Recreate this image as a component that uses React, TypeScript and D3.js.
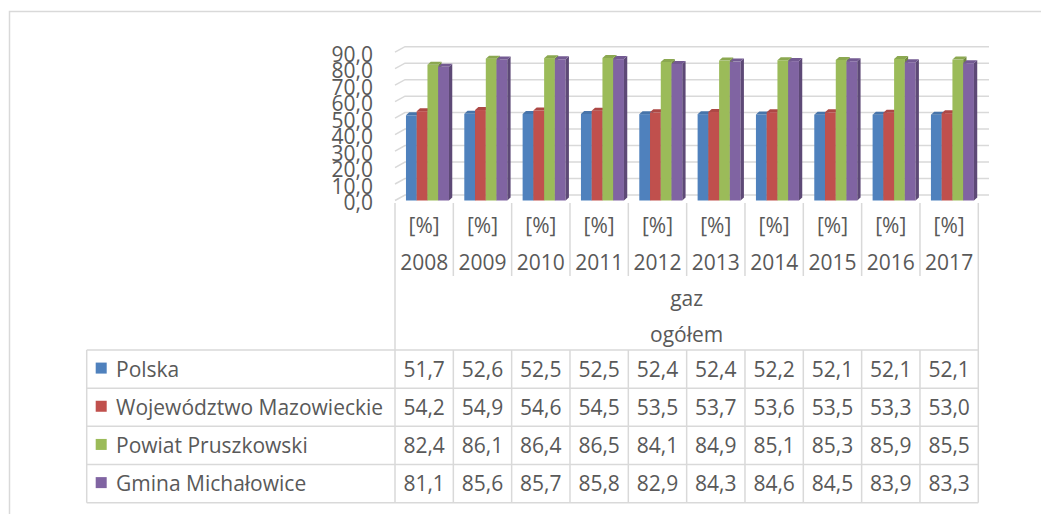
import React, { useEffect, useRef } from 'react';
import * as d3 from 'd3';

const years = ['2008', '2009', '2010', '2011', '2012', '2013', '2014', '2015', '2016', '2017'];
const seriesNames = ['Polska', 'Województwo Mazowieckie', 'Powiat Pruszkowski', 'Gmina Michałowice'];
const polska = [51.7, 52.6, 52.5, 52.5, 52.4, 52.4, 52.2, 52.1, 52.1, 52.1];
const mazowieckie = [54.2, 54.9, 54.6, 54.5, 53.5, 53.7, 53.6, 53.5, 53.3, 53.0];
const pruszkowski = [82.4, 86.1, 86.4, 86.5, 84.1, 84.9, 85.1, 85.3, 85.9, 85.5];
const michalowice = [81.1, 85.6, 85.7, 85.8, 82.9, 84.3, 84.6, 84.5, 83.9, 83.3];
const yTicks = [0, 10, 20, 30, 40, 50, 60, 70, 80, 90];
const unitLabel = '[%]';
const groupLabels = ['gaz', 'ogółem'];
const colors = ['#4F81BD', '#C0504D', '#9BBB59', '#8064A2'];

const W = 1041;
const H = 514;
const FONT = "'Open Sans', sans-serif";
const TXT = '#595959';
const LINE = '#d9d9d9';

const fmt = (v: number) => d3.format('.1f')(v).replace('.', ',');

function Chart() {
  const ref = useRef<SVGSVGElement>(null);

  useEffect(() => {
    const svg = d3.select(ref.current);
    svg.selectAll('*').remove();

    const series = [polska, mazowieckie, pruszkowski, michalowice];

    // front plane and back wall depth
    const dx = 10, dy = -5.5;
    const left = 395, right = 978.3;
    const x = d3.scaleBand<string>().domain(years).range([left, right]);
    const y = d3.scaleLinear().domain([0, 90]).range([200.5, 52.2]);

    // outer frame
    svg.append('path')
      .attr('d', `M9.5,${H} V11.5 H${W}`)
      .attr('fill', 'none').attr('stroke', LINE).attr('stroke-width', 1.5);

    // gridlines (side wall + back wall)
    const grid = svg.append('g').attr('fill', 'none').attr('stroke', LINE).attr('stroke-width', 1.5);
    yTicks.forEach(t => {
      grid.append('path')
        .attr('d', `M${left},${y(t)} L${left + dx},${y(t) + dy} H989`);
    });

    // y tick labels
    svg.append('g')
      .selectAll('text')
      .data(yTicks)
      .enter()
      .append('text')
      .attr('x', 373)
      .attr('y', d => y(d) + 1.5)
      .attr('text-anchor', 'end')
      .attr('dominant-baseline', 'central')
      .attr('font-family', FONT)
      .attr('font-size', 21)
      .attr('fill', TXT)
      .text(d => fmt(d));

    // 3d bars
    const inner = d3.scaleBand<number>().domain([0, 1, 2, 3]).range([0, 43]);
    const bw = inner.bandwidth();
    const off = (x.bandwidth() - 43) / 2 + 3.3;
    const bdx = 3.3, bdy = -3;
    const bars = svg.append('g');
    years.forEach((yr, i) => {
      series.forEach((s, k) => {
        const x0 = x(yr)! + off + inner(k)!;
        const y0 = y(0);
        const y1 = y(s[i]);
        const c = d3.color(colors[k])!;
        const g = bars.append('g');
        g.append('rect')
          .attr('x', x0).attr('y', y1)
          .attr('width', bw).attr('height', y0 - y1)
          .attr('fill', colors[k]);
        g.append('path')
          .attr('d', `M${x0 + bw},${y1} l${bdx},${bdy} V${y0 + bdy} l${-bdx},${-bdy} Z`)
          .attr('fill', c.darker(0.9).toString());
        g.append('path')
          .attr('d', `M${x0},${y1} l${bdx},${bdy} h${bw} l${-bdx},${-bdy} Z`)
          .attr('fill', c.darker(0.3).toString());
      });
    });

    // header block below plot
    const lines = svg.append('g').attr('stroke', LINE).attr('stroke-width', 1.5).attr('fill', 'none');
    lines.append('path').attr('d', `M${left},203 V350`);
    lines.append('path').attr('d', `M${right},203 V350`);
    years.slice(1).forEach(yr => {
      lines.append('path').attr('d', `M${x(yr)},203 V276`);
    });

    const header = svg.append('g')
      .attr('font-family', FONT).attr('font-size', 21).attr('fill', TXT).attr('text-anchor', 'middle');
    years.forEach(yr => {
      const cx = x(yr)! + x.bandwidth() / 2;
      header.append('text').attr('x', cx).attr('y', 233).text(unitLabel);
      header.append('text').attr('x', cx).attr('y', 270).text(yr);
    });
    header.append('text').attr('x', (left + right) / 2).attr('y', 305.5).text(groupLabels[0]);
    header.append('text').attr('x', (left + right) / 2).attr('y', 341.5).text(groupLabels[1]);

    // data table
    const tLeft = 86.7;
    const rowY = d3.scaleBand<number>().domain([0, 1, 2, 3]).range([350, 502.7]);
    const rh = rowY.bandwidth();
    seriesNames.forEach((_, k) => {
      lines.append('path').attr('d', `M${tLeft},${rowY(k)} H${right}`);
    });
    lines.append('path').attr('d', `M${tLeft},502.7 H${right}`);
    lines.append('path').attr('d', `M${tLeft},350 V502.7`);
    lines.append('path').attr('d', `M${right},350 V502.7`);
    years.forEach(yr => {
      lines.append('path').attr('d', `M${x(yr)},350 V502.7`);
    });

    const table = svg.append('g').attr('font-family', FONT).attr('font-size', 21).attr('fill', TXT);
    seriesNames.forEach((name, k) => {
      const cy = rowY(k)! + rh / 2;
      table.append('rect')
        .attr('x', 95.7).attr('y', cy - 6.5).attr('width', 11).attr('height', 11)
        .attr('fill', colors[k]);
      table.append('text')
        .attr('x', 116).attr('y', cy + 7.5)
        .text(name);
      series[k].forEach((v, i) => {
        table.append('text')
          .attr('x', x(years[i])! + x.bandwidth() / 2)
          .attr('y', cy + 7.5)
          .attr('text-anchor', 'middle')
          .text(fmt(v));
      });
    });
  }, []);

  return <svg ref={ref} width={W} height={H} style={{ position: 'absolute', left: 0, top: 0, background: '#fff' }} />;
}

export default function App() {
  return <Chart />;
}
